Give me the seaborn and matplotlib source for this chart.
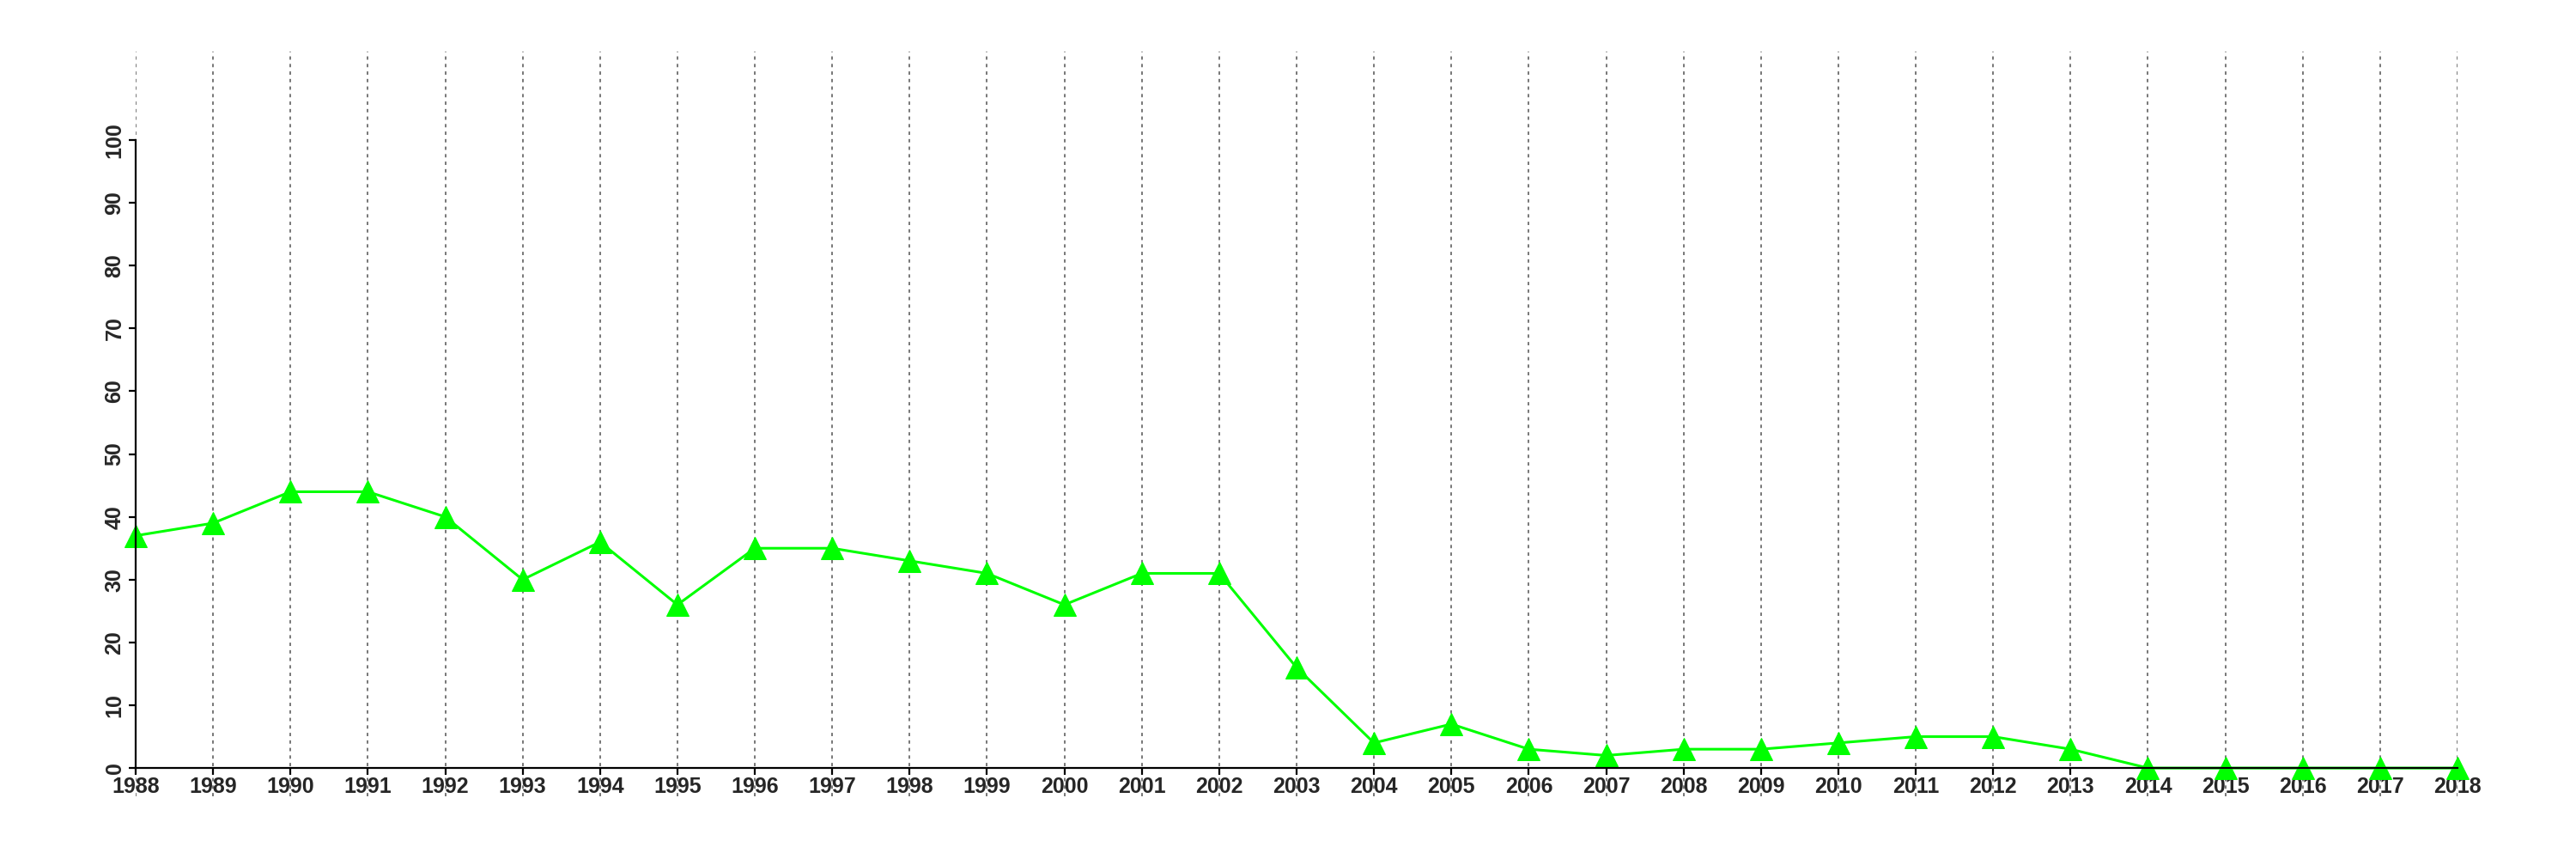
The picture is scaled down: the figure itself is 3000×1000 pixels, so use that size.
import matplotlib
matplotlib.use("Agg")
import matplotlib.pyplot as plt
import seaborn as sns
import pandas as pd

# data
years = list(range(1988, 2019))
values = [37, 39, 44, 44, 40, 30, 36, 26, 35, 35, 33, 31, 26, 31, 31, 16,
          4, 7, 3, 2, 3, 3, 4, 5, 5, 3, 0, 0, 0, 0, 0]
y_ticks = list(range(0, 101, 10))

sns.set_style("white")
plt.rcParams['font.family'] = ['Liberation Sans', 'DejaVu Sans']

df = pd.DataFrame({'year': years, 'value': values})

fig = plt.figure(figsize=(30, 10), dpi=100)
ax = fig.add_axes([158 / 3000, 0.073, (2862 - 158) / 3000, 0.94 - 0.073])

sns.lineplot(data=df, x='year', y='value', ax=ax, color='#00ff00',
             linewidth=2.2, marker='^', markersize=19,
             markeredgecolor='#00ff00', markerfacecolor='#00ff00', clip_on=False)

ax.set_xlim(years[0], years[-1])
ax.set_ylim(-4.5, 114.1)
ax.set_xticks(years)
ax.set_yticks(y_ticks)
ax.set_xlabel('')
ax.set_ylabel('')

# dotted vertical grid
ax.grid(axis='x', color='#777777', linestyle=(0, (2, 2.5)), linewidth=1.4)
ax.grid(axis='y', visible=False)

for s in ['top', 'right']:
    ax.spines[s].set_visible(False)
ax.spines['left'].set_bounds(0, 100)
ax.spines['bottom'].set_position(('data', 0))
ax.spines['bottom'].set_bounds(years[0], years[-1])
for s in ['left', 'bottom']:
    ax.spines[s].set_linewidth(1.6)
    ax.spines[s].set_color('black')

ax.tick_params(axis='both', direction='out', length=6, width=1.6, color='black',
               bottom=True, left=True)
ax.tick_params(axis='x', pad=1)
ax.tick_params(axis='y', pad=3)
for lab in ax.get_xticklabels():
    lab.set_fontsize(18)
    lab.set_fontweight('bold')
    lab.set_family(['Liberation Sans Narrow', 'Liberation Sans', 'DejaVu Sans'])
for lab in ax.get_yticklabels():
    lab.set_fontsize(18)
    lab.set_fontweight('bold')
    lab.set_rotation(90)
    lab.set_va('center')

fig.savefig('out.png', dpi=100)
